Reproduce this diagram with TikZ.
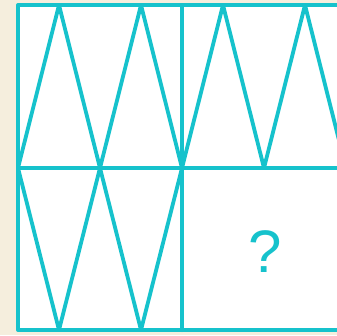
\documentclass[tikz,border=0pt]{standalone}
\usepackage{fontspec}
\setsansfont{Liberation Sans}
\definecolor{tile}{RGB}{22,194,204}
\definecolor{paper}{RGB}{245,238,221}
\begin{document}
\begin{tikzpicture}[x=1pt,y=-1pt,line cap=round,line join=round,
    grid/.style={tile,line width=4pt},
    zig/.style={tile,line width=3.8pt}]
  \useasboundingbox (0,0) rectangle (337,335);
  \clip (0,0) rectangle (337,335);
  % Page background and the white square sheet.
  \fill[paper] (0,0) rectangle (337,335);
  \fill[white] (18,5) rectangle (346,330);
  % Zigzags: a long row on top, a short inverted one bottom left.
  \draw[zig] (18,168) -- (59,5) -- (100,168) -- (141,5) -- (182,168)
    -- (223,5) -- (264,168) -- (305,5) -- (346,168);
  \draw[zig] (18,168) -- (59,330) -- (100,168) -- (141,330) -- (182,168);
  % Frame divided into four cells.
  \draw[grid] (18,5) rectangle (346,330);
  \draw[grid] (182,5) -- (182,330);
  \draw[grid] (18,168) -- (346,168);
  \node[tile,font=\sffamily\fontsize{60}{60}\selectfont] (ask) at (265,252) {?};
\end{tikzpicture}
\end{document}
